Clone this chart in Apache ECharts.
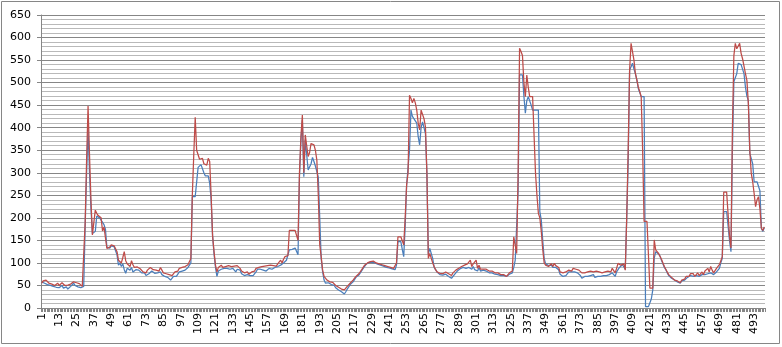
<!DOCTYPE html>
<html>
<head>
<meta charset="utf-8">
<script src="https://cdn.jsdelivr.net/npm/echarts@6/dist/echarts.min.js"></script>
<style>
  html, body { margin: 0; padding: 0; background: #fff; }
  #chart { width: 782px; height: 347px; }
</style>
</head>
<body>
<div id="chart"></div>
<script>
// category labels 1..500 (every 12th shown)
const categories = [];
for (let i = 1; i <= 500; i++) categories.push(String(i));

const yTicks = { min: 0, max: 650, step: 50 };

// series 1 (blue)
const blueValues = [
  58,62,55,57,52,54,50,52,48,44, 46,50,45,47,50,44,43,47,42,44,
  48,52,55,50,53,47,50,45,42,48, 180,300,396,300,220,165,165,170,204,205,
  200,198,190,185,175,135,134,133,138,140, 136,137,118,95,100,92,98,85,77,88,
  90,84,90,80,82,85,86,84,82,78, 75,78,72,70,76,80,82,79,77,75,
  78,76,80,74,72,70,70,68,66,62, 65,70,73,70,75,80,78,82,80,84,
  85,90,95,100,247,247,247,250,312,316, 318,315,300,293,293,293,277,240,160,120,
  90,70,82,84,86,82,88,86,88,90, 86,84,88,86,80,86,88,84,76,74,
  72,70,74,70,72,70,72,76,80,86, 88,86,88,84,86,82,86,88,90,86,
  88,90,88,92,94,95,96,100,104,106, 110,129,130,130,132,133,134,118,290,370,
  417,291,373,340,306,306,320,334,325,315, 315,290,200,110,80,62,55,58,56,55,
  52,48,50,45,42,40,38,36,33,31, 36,42,47,52,55,58,63,68,72,73,
  78,83,88,92,97,98,101,100,101,102, 100,98,97,95,95,93,93,92,90,90,
  89,88,87,86,85,95,147,147,147,130, 114,180,273,273,350,439,425,420,420,410,
  380,362,400,413,400,387,300,120,132,132, 110,90,85,80,76,74,73,73,74,75,
  73,70,68,66,70,74,78,82,85,87, 88,90,90,88,92,90,88,86,92,85,
  88,82,90,82,80,84,86,82,80,78, 80,78,77,75,76,74,72,72,70,72,
  74,70,70,75,76,78,90,106,110,260, 517,517,517,470,432,460,469,469,450,439,
  439,439,439,439,214,195,150,110,98,95, 94,92,95,90,92,90,92,85,75,72,
  70,70,72,74,80,82,80,84,80,82, 78,80,72,66,68,70,66,70,68,72,
  70,74,68,72,70,74,70,68,72,74, 72,70,74,72,78,76,70,80,84,90,
  88,96,96,86,200,321,528,535,543,530, 520,506,487,478,469,469,469,3,3,3,
  3,20,40,110,125,128,120,115,106,98, 90,85,78,72,68,66,64,62,60,58,
  57,55,60,58,62,64,68,66,72,68, 70,68,72,70,70,72,74,72,74,70,
  76,74,78,76,74,76,80,84,88,100, 110,214,214,214,214,150,125,350,502,502,
  520,543,543,540,530,520,490,470,460,343, 339,320,280,280,280,278,260,177,170,178
];

// series 2 (red)
const redValues = [
  55,60,57,62,58,55,56,53,55,50, 52,55,50,53,56,52,50,54,51,55,
  53,57,58,55,56,52,54,50,48,52, 190,330,448,340,240,162,190,217,210,205,
  208,200,171,180,178,132,136,135,140,143, 138,140,125,106,110,100,112,125,105,98,
  95,92,105,96,90,93,91,88,87,84, 80,82,78,84,86,90,87,85,88,84,
  86,82,90,84,78,80,76,78,74,77, 72,74,80,76,82,88,84,90,86,92,
  88,96,99,110,250,340,423,350,340,330, 328,332,320,318,317,332,325,250,160,125,
  95,80,90,92,95,90,94,92,96,94, 90,92,95,93,90,94,92,88,82,80,
  78,76,80,75,78,80,76,82,88,92, 90,94,92,90,93,91,94,92,95,92,
  94,96,93,98,100,106,100,108,114,112, 116,172,172,172,172,172,172,150,300,380,
  428,300,384,360,336,345,365,369,362,350, 328,250,140,114,84,70,66,62,60,58,
  60,57,55,50,48,46,44,42,40,40, 44,48,52,55,58,62,66,70,73,76,
  80,85,90,95,99,100,103,103,102,104, 102,100,99,98,97,96,95,94,93,92,
  91,90,89,88,86,100,158,158,158,158, 140,200,273,300,472,465,455,465,455,439,
  410,395,439,439,420,402,300,110,121,121, 100,92,85,80,78,77,78,76,77,80,
  77,76,74,72,78,80,84,86,88,90, 92,92,95,94,98,100,106,92,98,100,
  106,88,95,86,84,86,90,86,84,82, 85,82,80,78,82,78,76,74,70,74,
  76,70,72,78,80,82,158,158,121,300, 576,569,560,500,469,517,490,469,469,469,
  469,300,250,210,200,170,130,100,95,96, 92,95,98,92,99,94,97,90,80,77,
  78,75,80,78,84,86,82,88,84,86, 82,84,80,78,80,78,80,80,76,82,
  78,80,76,82,78,80,84,78,82,80, 84,82,86,80,88,92,78,88,99,99,
  95,99,98,84,200,350,528,587,583,550, 520,506,490,480,469,350,192,192,192,192,
  44,44,44,151,129,130,121,118,108,100, 92,86,80,74,70,68,66,62,64,60,
  58,56,62,66,64,70,74,70,76,72, 76,70,74,78,72,76,80,74,82,78,
  88,80,92,84,78,75,88,90,96,105, 114,257,257,257,257,160,133,400,560,587,
  575,572,587,565,553,550,520,505,454,350, 299,280,254,225,240,247,220,177,172,180
];

const axisGray = '#868686';
const labelStyle = { color: '#000', fontFamily: 'DejaVu Sans', fontSize: 11 };

const chart = echarts.init(document.getElementById('chart'), null, { renderer: 'canvas' });
chart.setOption({
  animation: false,
  backgroundColor: '#fff',
  graphic: [{
    type: 'rect',
    silent: true,
    shape: { x: 1.5, y: 1.5, width: 778, height: 342 },
    style: { fill: 'none', stroke: axisGray, lineWidth: 1 }
  }],
  grid: { left: 41, top: 15, right: 17, bottom: 39, containLabel: false },
  xAxis: {
    type: 'category',
    data: categories,
    boundaryGap: true,
    axisLine: { lineStyle: { color: axisGray, width: 1 } },
    axisTick: { show: true, interval: 0, length: 4, lineStyle: { color: axisGray } },
    axisLabel: { ...labelStyle, interval: 11, rotate: 90, margin: 5 },
    splitLine: { show: false }
  },
  yAxis: {
    type: 'value',
    min: yTicks.min,
    max: yTicks.max,
    interval: yTicks.step,
    axisLine: { show: true, lineStyle: { color: axisGray, width: 1 } },
    axisTick: { show: true, length: 4, lineStyle: { color: axisGray } },
    axisLabel: { ...labelStyle, margin: 10 },
    splitLine: { show: true, lineStyle: { color: axisGray, width: 1 } },
    minorTick: { show: true, splitNumber: 5, length: 0, lineStyle: { color: 'transparent' } },
    minorSplitLine: { show: true, lineStyle: { color: '#b9b9b9', width: 1 } }
  },
  series: [
    {
      name: 'blue',
      type: 'line',
      data: blueValues,
      symbol: 'none',
      lineStyle: { color: '#4a7ebb', width: 1.25 },
      itemStyle: { color: '#4a7ebb' }
    },
    {
      name: 'red',
      type: 'line',
      data: redValues,
      symbol: 'none',
      lineStyle: { color: '#be4b48', width: 1.25 },
      itemStyle: { color: '#be4b48' }
    }
  ]
});
</script>
</body>
</html>
